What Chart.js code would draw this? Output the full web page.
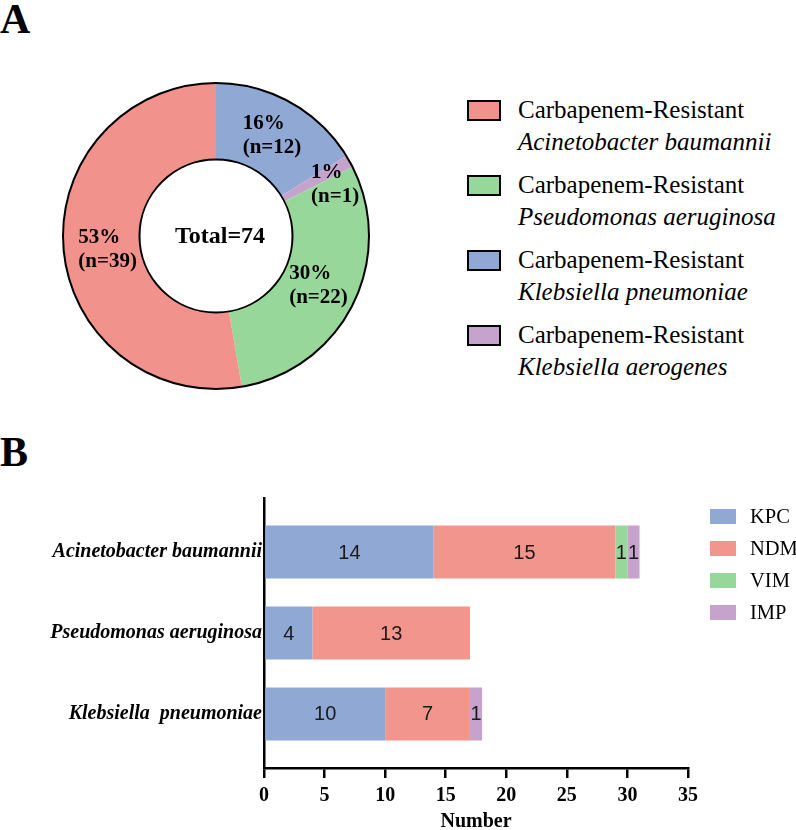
<!DOCTYPE html>
<html>
<head>
<meta charset="utf-8">
<script src="https://cdn.jsdelivr.net/npm/chart.js@4"></script>
<style>
  html, body { margin: 0; padding: 0; background: #fff; }
  body { position: relative; width: 796px; height: 830px; overflow: hidden; font-family: "Liberation Serif", "Times New Roman", serif; color: #000; }
  .panel-letter { position: absolute; left: 0; font-weight: bold; font-size: 42px; line-height: 42px; }
  #ringChart { position: absolute; left: 0; top: 0; }
  #barChart { position: absolute; left: 0; top: 430px; }
  #ringLegend { position: absolute; left: 467px; top: 94px; }
  #ringLegend .item { display: flex; height: 75px; }
  #ringLegend .box { width: 34px; height: 21px; margin-top: 5.5px; margin-right: 17px; border: 2px solid #000; box-sizing: border-box; flex: none; }
  #ringLegend .txt { font-size: 25px; line-height: 32px; white-space: nowrap; }
  #ringLegend .txt i { font-style: italic; }
  #barLegend { position: absolute; left: 710px; top: 500px; }
  #barLegend .item { display: flex; height: 32px; }
  #barLegend .box { width: 26px; height: 15px; margin-top: 8.5px; margin-right: 14px; flex: none; }
  #barLegend .txt { font-size: 20.5px; line-height: 32px; white-space: nowrap; }
</style>
</head>
<body>
<div class="panel-letter" style="top:-2px">A</div>
<div class="panel-letter" style="top:431px">B</div>
<canvas id="ringChart" width="430" height="420"></canvas>
<div id="ringLegend"></div>
<canvas id="barChart" width="796" height="404"></canvas>
<div id="barLegend"></div>

<script>
// --- panel A data (legend order) ---
const species = ['Acinetobacter baumannii', 'Pseudomonas aeruginosa', 'Klebsiella pneumoniae', 'Klebsiella aerogenes'];
const isolateCounts = [39, 22, 12, 1];
const speciesColors = ['#f2928c', '#97d89a', '#90a8d4', '#c5a3cc'];
// order of slices clockwise from 12 o'clock
const ringOrder = [2, 3, 1, 0];

// --- panel B data ---
const barCategories = ['Acinetobacter baumannii', 'Pseudomonas aeruginosa', 'Klebsiella  pneumoniae'];
const mechanisms = ['KPC', 'NDM', 'VIM', 'IMP'];
const kpcCounts = [14, 4, 10];
const ndmCounts = [15, 13, 7];
const vimCounts = [1, 0, 0];
const impCounts = [1, 0, 1];
const mechanismColors = ['#90a8d4', '#f2958c', '#97d89a', '#c5a3cc'];

const serif = '"Liberation Serif", "Times New Roman", serif';
const total = isolateCounts.reduce((a, b) => a + b, 0);

// ring outline + slice labels
const labelNudge = [[0, 0], [19, 5], [0, -2], [6, 4]];
const ringDecor = {
  id: 'ringDecor',
  afterDatasetsDraw(chart) {
    const ctx = chart.ctx;
    const meta = chart.getDatasetMeta(0);
    const first = meta.data[0];
    const cx = first.x, cy = first.y;
    ctx.save();
    ctx.strokeStyle = '#000';
    ctx.lineWidth = 2;
    ctx.beginPath(); ctx.arc(cx, cy, first.outerRadius, 0, Math.PI * 2); ctx.stroke();
    ctx.beginPath(); ctx.arc(cx, cy, first.innerRadius, 0, Math.PI * 2); ctx.stroke();

    ctx.fillStyle = '#000';
    ctx.font = 'bold 21px ' + serif;
    ctx.textBaseline = 'middle';
    ctx.textAlign = 'left';
    meta.data.forEach((arc, i) => {
      const n = chart.data.datasets[0].data[i];
      const mid = (arc.startAngle + arc.endAngle) / 2;
      const r = (arc.innerRadius + arc.outerRadius) / 2;
      const x = cx + Math.cos(mid) * r + labelNudge[i][0];
      const y = cy + Math.sin(mid) * r + labelNudge[i][1];
      const lines = [Math.round(n / total * 100) + '%', '(n=' + n + ')'];
      const w = Math.max(...lines.map(l => ctx.measureText(l).width));
      ctx.fillText(lines[0], x - w / 2, y - 12);
      ctx.fillText(lines[1], x - w / 2, y + 12);
    });

    ctx.textAlign = 'center';
    ctx.font = 'bold 24px ' + serif;
    ctx.fillText('Total=' + total, cx + 4, cy + 1);
    ctx.restore();
  }
};

new Chart(document.getElementById('ringChart'), {
  type: 'doughnut',
  data: {
    labels: ringOrder.map(i => species[i]),
    datasets: [{
      data: ringOrder.map(i => isolateCounts[i]),
      backgroundColor: ringOrder.map(i => speciesColors[i]),
      borderWidth: 0
    }]
  },
  options: {
    responsive: false,
    animation: false,
    events: [],
    cutout: '50%',
    layout: { padding: { left: 63, top: 83, right: 61, bottom: 31 } },
    plugins: { legend: { display: false }, tooltip: { enabled: false } }
  },
  plugins: [ringDecor]
});

// panel A legend
const ringLegend = document.getElementById('ringLegend');
species.forEach((name, i) => {
  const item = document.createElement('div');
  item.className = 'item';
  item.innerHTML = '<div class="box" style="background:' + speciesColors[i] + '"></div>' +
    '<div class="txt">Carbapenem-Resistant<br><i>' + name + '</i></div>';
  ringLegend.appendChild(item);
});

// bar value labels
const barValues = {
  id: 'barValues',
  afterDatasetsDraw(chart) {
    const ctx = chart.ctx;
    ctx.save();
    ctx.fillStyle = '#1a1a1a';
    ctx.font = '20px "Liberation Sans", Arial, sans-serif';
    ctx.textAlign = 'center';
    ctx.textBaseline = 'middle';
    chart.data.datasets.forEach((ds, di) => {
      chart.getDatasetMeta(di).data.forEach((bar, i) => {
        const v = ds.data[i].x;
        if (!v) return;
        const p = bar.getCenterPoint();
        ctx.fillText(String(v), p.x, p.y + 1);
      });
    });
    ctx.restore();
  }
};

const mechanismCounts = [kpcCounts, ndmCounts, vimCounts, impCounts];

new Chart(document.getElementById('barChart'), {
  type: 'bar',
  data: {
    datasets: mechanisms.map((m, k) => ({
      label: m,
      data: mechanismCounts[k].map((v, i) => ({ x: v, y: i })),
      backgroundColor: mechanismColors[k],
      borderWidth: 0,
      categoryPercentage: 1,
      barPercentage: 0.655
    }))
  },
  options: {
    indexAxis: 'y',
    responsive: false,
    animation: false,
    events: [],
    layout: { padding: { left: 0, top: 68, right: 108, bottom: 0 } },
    plugins: { legend: { display: false }, tooltip: { enabled: false } },
    scales: {
      x: {
        type: 'linear',
        stacked: true,
        min: 0,
        max: 35,
        ticks: { stepSize: 5, color: '#000', padding: 6, font: { family: serif, size: 20, weight: 'bold' } },
        grid: { drawOnChartArea: false, drawTicks: true, tickLength: 10, color: '#000', lineWidth: 2.5 },
        border: { color: '#000', width: 2.5 },
        title: { display: true, text: 'Number', color: '#000', padding: 0, font: { family: serif, size: 20, weight: 'bold' } },
        afterFit: (s) => { s.height = 66; }
      },
      y: {
        type: 'linear',
        stacked: true,
        reverse: true,
        offset: false,
        min: -0.667,
        max: 2.667,
        afterBuildTicks: (s) => { s.ticks = barCategories.map((c, i) => ({ value: i })); },
        ticks: {
          color: '#000',
          padding: 2,
          font: { family: serif, size: 20, weight: 'bold', style: 'italic' },
          callback: (v) => barCategories[v]
        },
        grid: { display: false, drawTicks: false, offset: false },
        border: { color: '#000', width: 2.5 },
        afterFit: (s) => { s.width = 264; }
      }
    }
  },
  plugins: [barValues]
});

// panel B legend
const barLegend = document.getElementById('barLegend');
mechanisms.forEach((m, k) => {
  const item = document.createElement('div');
  item.className = 'item';
  item.innerHTML = '<div class="box" style="background:' + mechanismColors[k] + '"></div><div class="txt">' + m + '</div>';
  barLegend.appendChild(item);
});
</script>
</body>
</html>
